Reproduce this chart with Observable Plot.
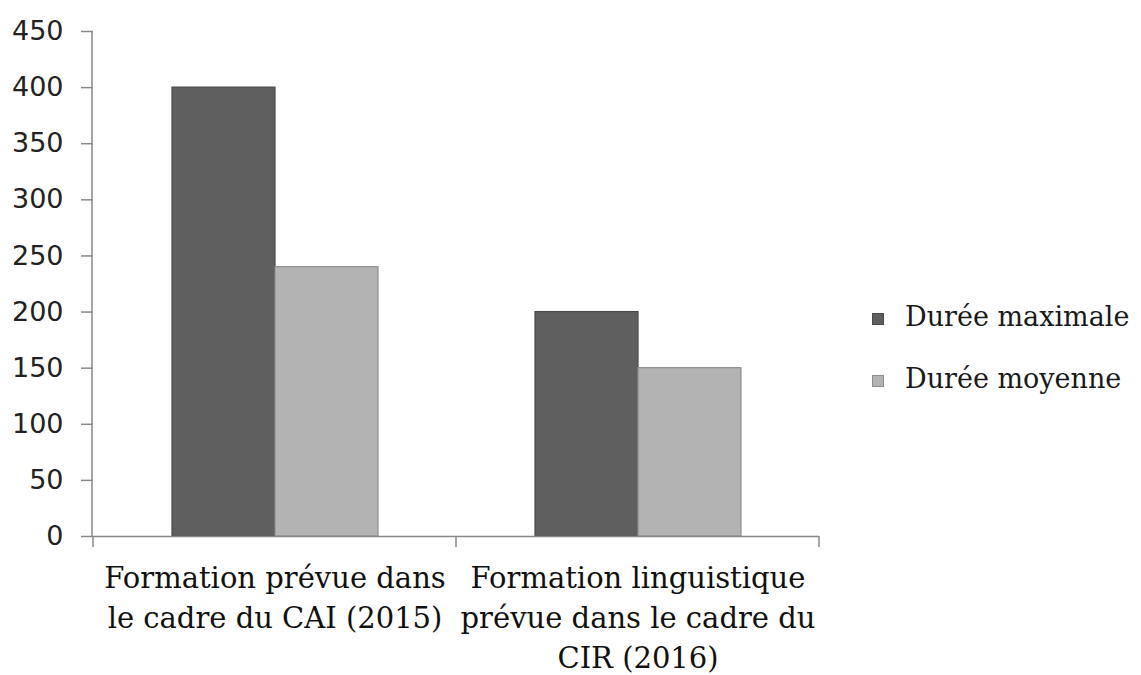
<!DOCTYPE html>
<html>
<head>
<meta charset="utf-8">
<script src="https://cdn.jsdelivr.net/npm/d3@7"></script>
<script src="https://cdn.jsdelivr.net/npm/@observablehq/plot@0.6"></script>
<style>
  html, body { margin: 0; padding: 0; background: #fff; }
  #wrap { position: relative; width: 1141px; height: 675px; overflow: hidden; }
  #legend { position: absolute; left: 872px; top: 285px; font-family: "DejaVu Serif", serif; font-size: 27px; color: #1a1a1a; }
  .item { display: flex; align-items: center; height: 62px; white-space: nowrap; }
  .sw { width: 12px; height: 12px; margin-right: 21px; box-sizing: border-box; margin-top: 5px; }
</style>
</head>
<body>
<div id="wrap"><div id="legend"></div></div>
<script>
const categories = [
  "Formation prévue dans\nle cadre du CAI (2015)",
  "Formation linguistique\nprévue dans le cadre du\nCIR (2016)"
];
const series = ["Durée maximale", "Durée moyenne"];
const dureeMaximale = [400, 200];
const dureeMoyenne = [240, 150];
const yTicks = [0, 50, 100, 150, 200, 250, 300, 350, 400, 450];
const fills = ["#5f5f5f", "#b3b3b3"];
const strokes = ["#4a4a4a", "#8e8e8e"];

const data = [];
categories.forEach((c, i) => {
  data.push({cat: c, series: series[0], value: dureeMaximale[i]});
  data.push({cat: c, series: series[1], value: dureeMoyenne[i]});
});

const chart = Plot.plot({
  width: 1141,
  height: 675,
  marginLeft: 92,
  marginRight: 322,
  marginTop: 31,
  marginBottom: 139,
  style: {background: "#fff"},
  fx: {domain: categories, paddingInner: 0, paddingOuter: 0},
  x: {domain: series, paddingInner: 0, paddingOuter: 0.757, axis: null},
  y: {domain: [0, 450]},
  color: {domain: series, range: fills},
  marks: [
    Plot.axisY({
      ticks: yTicks, tickSize: 12, tickPadding: 18, label: null,
      fontSize: 27, fontFamily: "DejaVu Sans", stroke: "#888", fill: "#222",
      strokeWidth: 1.5
    }),
    Plot.axisFx({
      anchor: "bottom",
      tickSize: 0, label: null, tickPadding: 23, fontSize: 29,
      fontFamily: "DejaVu Serif", fill: "#111", lineHeight: 1.38,
      textAnchor: "middle"
    }),
    Plot.barY(data, {
      fx: "cat", x: "series", y: "value", fill: "series",
      stroke: (d) => strokes[series.indexOf(d.series)], strokeWidth: 1.2
    }),
    Plot.ruleY([0], {stroke: "#888", strokeWidth: 1.5})
  ]
});

document.getElementById("wrap").prepend(chart);

// boundary ticks on the category axis, placed with Plot's fx scale
const fx = chart.scale("fx");
const yS = chart.scale("y");
const bw = fx.bandwidth;
const fxApply = fx.apply ? fx.apply : (v) => d3.scaleBand(fx.domain, fx.range).paddingInner(0).paddingOuter(0)(v);
const y0 = yS.apply ? yS.apply(0) : 536;
const edges = [fxApply(categories[0])].concat(categories.map(c => fxApply(c) + bw));
const svg = d3.select(chart);
svg.append("g").selectAll("line").data(edges).join("line")
  .attr("x1", d => d).attr("x2", d => d)
  .attr("y1", y0).attr("y2", y0 + 11)
  .attr("stroke", "#888").attr("stroke-width", 1.5);
// left axis line
svg.append("line")
  .attr("x1", fx.range[0]).attr("x2", fx.range[0])
  .attr("y1", yS.apply ? yS.apply(450) : 31).attr("y2", y0)
  .attr("stroke", "#888").attr("stroke-width", 1.5);

const legend = d3.select("#legend");
series.forEach((s, i) => {
  const it = legend.append("div").attr("class", "item");
  it.append("div").attr("class", "sw").style("background", fills[i]).style("border", `1px solid ${strokes[i]}`);
  it.append("span").text(s);
});
</script>
</body>
</html>
